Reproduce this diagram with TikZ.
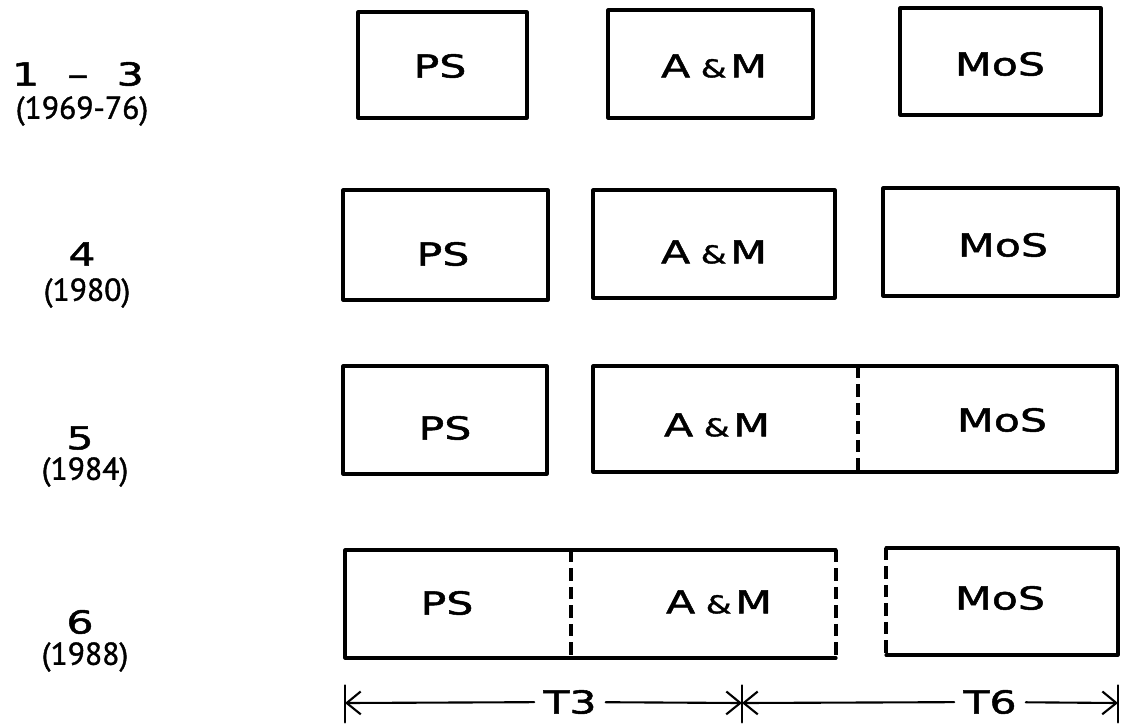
\documentclass[tikz,border=0pt]{standalone}
\usepackage{fontspec}
\newfontfamily\boxfont[FakeStretch=1.35,FakeBold=1.6]{DejaVu Sans}
\newfontfamily\yearfont[FakeBold=1.2]{PT Sans}
\usetikzlibrary{arrows.meta}
\newcommand{\amp}{A\hspace{6pt}{\fontsize{14}{14}\selectfont\&}\hspace{2pt}M}

\begin{document}
\begin{tikzpicture}[x=0.02cm, y=-0.02cm, line join=round, line cap=round,
	box/.style={line width=1.8pt},
	split/.style={line width=1.8pt, line cap=butt, dash pattern=on 7pt off 3.5pt},
	lbl/.style={font=\boxfont\fontsize{18}{20}\selectfont},
	yr/.style={font=\yearfont\fontsize{18}{20}\selectfont},
	dim/.style={line width=1.2pt, -{Straight Barb[length=8pt,width=13pt,line width=1.2pt]}},
	tick/.style={line width=1.4pt}]
	\useasboundingbox (0,0) rectangle (1122,724);
	% phase labels
	\node[lbl] (p1) at (78,74) {1\hspace{16pt}–\hspace{16pt}3};
	\node[yr] (y1) at (82,111) {(1969-76)};
	\node[lbl] (p2) at (82,254) {4};
	\node[yr] (y2) at (87,293) {(1980)};
	\node[lbl] (p3) at (80,438) {5};
	\node[yr] (y3) at (85,472) {(1984)};
	\node[lbl] (p4) at (80,622) {6};
	\node[yr] (y4) at (85,657) {(1988)};
	% row 1-3
	\draw[box] (358,12) rectangle (527,118);
	\draw[box] (608,10) rectangle (813,118);
	\draw[box] (900,8) rectangle (1101,115);
	\node[lbl] (ps1) at (440,66) {PS};
	\node[lbl] (am1) at (714,66) {\amp};
	\node[lbl] (mos1) at (1000,64) {MoS};
	% row 4
	\draw[box] (343,190) rectangle (548,300);
	\draw[box] (593,190) rectangle (835,298);
	\draw[box] (883,188) rectangle (1118,296);
	\node[lbl] (ps2) at (443,254) {PS};
	\node[lbl] (am2) at (714,252) {\amp};
	\node[lbl] (mos2) at (1003,245) {MoS};
	% row 5
	\draw[box] (343,366) rectangle (547,474);
	\draw[box] (593,366) rectangle (1117,472);
	\draw[split] (858,366) -- (858,472);
	\node[lbl] (ps3) at (445,428) {PS};
	\node[lbl] (am3) at (717,425) {\amp};
	\node[lbl] (mos3) at (1002,420) {MoS};
	% row 6
	\draw[box] (836,550) -- (345,550) -- (345,658) -- (836,658);
	\draw[split] (836,550) -- (836,658);
	\draw[split] (571,550) -- (571,658);
	\draw[box] (886,548) -- (1118,548) -- (1118,655) -- (886,655);
	\draw[split] (886,548) -- (886,655);
	\node[lbl] (ps4) at (447,603) {PS};
	\node[lbl] (am4) at (719,602) {\amp};
	\node[lbl] (mos4) at (1000,598) {MoS};
	% time spans
	\coordinate (dl) at (345,703);
	\coordinate (dm) at (742,703);
	\coordinate (dr) at (1118,703);
	\node[lbl, inner sep=5pt] (t3) at (570,702) {T3};
	\node[lbl, inner sep=5pt] (t6) at (990,702) {T6};
	\draw[dim] (t3) -- (dl);
	\draw[dim] (t3) -- (dm);
	\draw[dim] (t6) -- (dm);
	\draw[dim] (t6) -- (dr);
	\draw[tick] ([yshift=10pt]dl) -- ([yshift=-11pt]dl);
	\draw[tick] ([yshift=10pt]dm) -- ([yshift=-11pt]dm);
	\draw[tick] ([yshift=10pt]dr) -- ([yshift=-11pt]dr);
\end{tikzpicture}
\end{document}
